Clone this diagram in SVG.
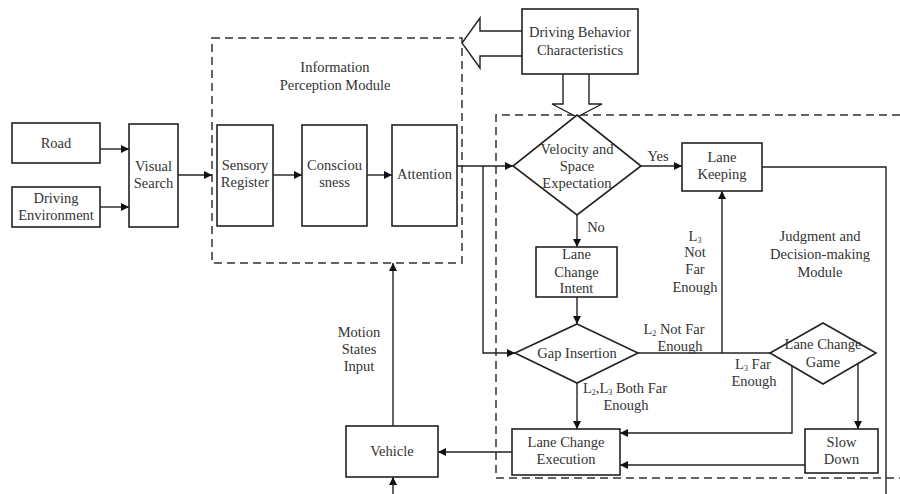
<svg xmlns="http://www.w3.org/2000/svg" width="900" height="494" viewBox="0 0 900 494">
<defs>
<style>
.b{fill:#fff;stroke:#222;stroke-width:1.6}
.d{fill:none;stroke:#333;stroke-width:1.5;stroke-dasharray:8 5}
.c{fill:none;stroke:#222;stroke-width:1.4}
.h{fill:#fff;stroke:#222;stroke-width:1.4}
text{font-family:"Liberation Serif","Times New Roman",serif;font-size:14.5px;fill:#333;text-anchor:middle}
</style>
<marker id="a" viewBox="0 0 10 10" refX="10" refY="5" markerWidth="9" markerHeight="8" markerUnits="userSpaceOnUse" orient="auto">
<path d="M0,0 L10,5 L0,10 z" fill="#111"/>
</marker>
</defs>
<rect width="900" height="494" fill="#fff"/>

<g id="modules">
<rect class="d" x="212" y="38" width="250" height="225"/>
<text x="335" y="72">Information</text>
<text x="335" y="90">Perception Module</text>
<path class="d" d="M900,115 H496 V478 H900"/>
<text x="820" y="241">Judgment and</text>
<text x="820" y="259">Decision-making</text>
<text x="820" y="277">Module</text>
</g>

<g id="connectors">
<path class="c" d="M100,149 H129" marker-end="url(#a)"/>
<path class="c" d="M100,207 H129" marker-end="url(#a)"/>
<path class="c" d="M178,175 H212" marker-end="url(#a)"/>
<path class="c" d="M273,175 H302" marker-end="url(#a)"/>
<path class="c" d="M367,175 H392" marker-end="url(#a)"/>
<path class="c" d="M457,166 H513" marker-end="url(#a)"/>
<path class="c" d="M483,166 V353 H515" marker-end="url(#a)"/>
<path class="c" d="M641,166 H682" marker-end="url(#a)"/>
<text x="658" y="161">Yes</text>
<path class="c" d="M577,215 V247" marker-end="url(#a)"/>
<text x="596" y="232">No</text>
<path class="c" d="M577,297 V324" marker-end="url(#a)"/>
<path class="c" d="M638,353 H770"/>
<path class="c" d="M722,353 V191" marker-end="url(#a)"/>
<text x="695" y="241">L<tspan font-size="8" dy="2">3</tspan></text>
<text x="695" y="257">Not</text>
<text x="695" y="274">Far</text>
<text x="695" y="292">Enough</text>
<text x="674" y="334">L<tspan font-size="8" dy="2">2</tspan><tspan dy="-2"> Not Far</tspan></text>
<text x="680" y="351">Enough</text>
<text x="753" y="369">L<tspan font-size="8" dy="2">3</tspan><tspan dy="-2"> Far</tspan></text>
<text x="754" y="386">Enough</text>
<path class="c" d="M577,383 V429" marker-end="url(#a)"/>
<text x="625" y="393">L<tspan font-size="8" dy="2">2</tspan><tspan dy="-2">,L</tspan><tspan font-size="8" dy="2">3</tspan><tspan dy="-2"> Both Far</tspan></text>
<text x="626" y="410">Enough</text>
<path class="c" d="M792,366 V433 H620" marker-end="url(#a)"/>
<path class="c" d="M858,363 V429" marker-end="url(#a)"/>
<path class="c" d="M805,465 H620" marker-end="url(#a)"/>
<path class="c" d="M512,452 H438" marker-end="url(#a)"/>
<path class="c" d="M393,426 V263" marker-end="url(#a)"/>
<text x="359" y="337">Motion</text>
<text x="359" y="354">States</text>
<text x="359" y="371">Input</text>
<path class="c" d="M393,494 V477" marker-end="url(#a)"/>
<path class="c" d="M762,167 H886 V494"/>
<path class="h" d="M522,31 H480 V18 L462,43 L480,68 V56 H522"/>
<path class="h" d="M563,74 V104 H552 L577,117 L602,104 H589 V74"/>
</g>

<g id="road"><rect class="b" x="12" y="123" width="88" height="40"/><text x="56" y="148">Road</text></g>
<g id="env"><rect class="b" x="12" y="187" width="88" height="40"/><text x="56" y="203">Driving</text><text x="56" y="220">Environment</text></g>
<g id="visual"><rect class="b" x="129" y="124" width="49" height="103"/><text x="153.5" y="171">Visual</text><text x="153.5" y="188">Search</text></g>
<g id="sensory"><rect class="b" x="217" y="125" width="56" height="101"/><text x="245" y="170">Sensory</text><text x="245" y="187">Register</text></g>
<g id="conscious"><rect class="b" x="302" y="125" width="65" height="101"/><text x="334.5" y="170">Consciou</text><text x="334.5" y="187">sness</text></g>
<g id="attention"><rect class="b" x="392" y="125" width="65" height="101"/><text x="424.5" y="179">Attention</text></g>
<g id="dbc"><rect class="b" x="522" y="9" width="116" height="65"/><text x="580" y="37">Driving Behavior</text><text x="580" y="55">Characteristics</text></g>
<g id="velocity"><path class="b" d="M577,115 L641,166 L577,215 L513,166 Z"/><text x="577" y="154">Velocity and</text><text x="577" y="171">Space</text><text x="577" y="188">Expectation</text></g>
<g id="keeping"><rect class="b" x="682" y="143" width="80" height="48"/><text x="722" y="162">Lane</text><text x="722" y="179">Keeping</text></g>
<g id="intent"><rect class="b" x="536" y="247" width="81" height="50"/><text x="576.5" y="259">Lane</text><text x="576.5" y="277">Change</text><text x="576.5" y="293">Intent</text></g>
<g id="gap"><path class="b" d="M577,324 L638,353 L577,383 L515,353 Z"/><text x="577" y="358">Gap Insertion</text></g>
<g id="game"><path class="b" d="M823,323 L876,353 L823,384 L770,353 Z"/><text x="823" y="349">Lane Change</text><text x="823" y="367">Game</text></g>
<g id="slow"><rect class="b" x="805" y="429" width="73" height="44"/><text x="841.5" y="447">Slow</text><text x="841.5" y="464">Down</text></g>
<g id="exec"><rect class="b" x="512" y="429" width="108" height="46"/><text x="566" y="447">Lane Change</text><text x="566" y="464">Execution</text></g>
<g id="vehicle"><rect class="b" x="346" y="426" width="92" height="51"/><text x="392" y="456">Vehicle</text></g>
</svg>
